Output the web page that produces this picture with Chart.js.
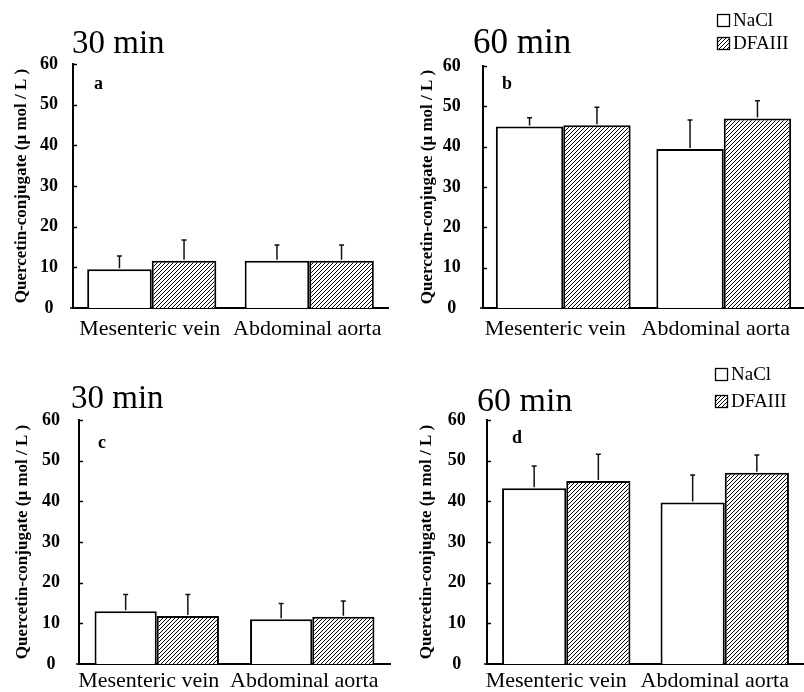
<!DOCTYPE html>
<html><head><meta charset="utf-8">
<script src="https://cdn.jsdelivr.net/npm/chart.js@4.4.0/dist/chart.umd.min.js"></script>
<style>
html,body{margin:0;padding:0;background:#fff;}
body{width:804px;height:692px;position:relative;overflow:hidden;}
.p{position:absolute;}
canvas{display:block;}
</style></head><body>
<div class="p" style="left:0;top:0"><canvas id="ca" width="400" height="345"></canvas></div>
<div class="p" style="left:400px;top:0"><canvas id="cb" width="404" height="345"></canvas></div>
<div class="p" style="left:0;top:345px"><canvas id="cc" width="400" height="347"></canvas></div>
<div class="p" style="left:400px;top:345px"><canvas id="cd" width="404" height="347"></canvas></div>
<script>
// ---- data ----
const categories = ['Mesenteric vein', 'Abdominal aorta'];
const seriesNames = ['NaCl', 'DFAIII'];
const yTicks = [0, 10, 20, 30, 40, 50, 60];
const yTitle = 'Quercetin-conjugate (\u03bc mol / L )';

const aNaCl = [9.5, 11.6],  aNaClSD = [3.3, 3.9];
const aDFA  = [11.6, 11.6], aDFASD  = [5.1, 3.9];
const bNaCl = [45.0, 39.4], bNaClSD = [2.2, 7.2];
const bDFA  = [45.3, 47.0], bDFASD  = [4.5, 4.4];
const cNaCl = [13.0, 11.0], cNaClSD = [4.1, 3.9];
const cDFA  = [11.8, 11.6], cDFASD  = [5.3, 3.9];
const dNaCl = [43.2, 39.7], dNaClSD = [5.5, 6.8];
const dDFA  = [45.0, 47.0], dDFASD  = [6.6, 4.4];

const SERIF = "'Liberation Serif', 'Times New Roman', serif";

function makeHatch(ctx) {
  const s = 4;
  const c = document.createElement('canvas'); c.width = s; c.height = s;
  const g = c.getContext('2d');
  g.fillStyle = '#fff'; g.fillRect(0, 0, s, s);
  g.strokeStyle = '#000'; g.lineWidth = 1.0;
  g.beginPath();
  g.moveTo(0, s); g.lineTo(s, 0);
  g.moveTo(-1, 1); g.lineTo(1, -1);
  g.moveTo(s - 1, s + 1); g.lineTo(s + 1, s - 1);
  g.stroke();
  return ctx.createPattern(c, 'repeat');
}

const errPlugin = {
  id: 'errbars',
  afterDatasetsDraw(chart) {
    const ctx = chart.ctx, y = chart.scales.y;
    chart.data.datasets.forEach((ds, i) => {
      const meta = chart.getDatasetMeta(i);
      meta.data.forEach((bar, j) => {
        const top = y.getPixelForValue(ds.data[j] + ds.sd[j]);
        ctx.save();
        ctx.strokeStyle = '#111'; ctx.lineWidth = 1.5;
        ctx.beginPath();
        ctx.moveTo(bar.x, bar.y - 1); ctx.lineTo(bar.x, top);
        ctx.moveTo(bar.x - 2.5, top); ctx.lineTo(bar.x + 2.5, top);
        ctx.stroke();
        ctx.restore();
      });
    });
  }
};

const innerTicks = {
  id: 'innerTicks',
  afterDraw(chart) {
    const ctx = chart.ctx, y = chart.scales.y, x0 = chart.chartArea.left;
    ctx.save(); ctx.strokeStyle = '#000'; ctx.lineWidth = 1.5;
    yTicks.forEach(v => {
      const py = Math.round(y.getPixelForValue(v)) + 0.5;
      ctx.beginPath();
      if (v === 0) { ctx.moveTo(x0 - 3, py - 0.5); ctx.lineTo(x0, py - 0.5); }
      else { ctx.moveTo(x0, py); ctx.lineTo(x0 + 4, py); }
      ctx.stroke();
    });
    ctx.restore();
  }
};

const annot = {
  id: 'annot',
  afterDraw(chart, args, o) {
    const ctx = chart.ctx;
    ctx.save();
    ctx.fillStyle = '#000';
    ctx.textBaseline = 'alphabetic'; ctx.textAlign = 'left';
    ctx.font = o.tsize + 'px ' + SERIF;
    ctx.fillText(o.title, o.tx, o.ty);
    ctx.font = 'bold 18px ' + SERIF;
    ctx.fillText(o.letter, o.lx, o.ly);
    if (o.legend) {
      const L = o.legend;
      const hatch = makeHatch(ctx);
      ctx.lineWidth = 1.3; ctx.strokeStyle = '#000';
      ctx.fillStyle = '#fff'; ctx.fillRect(L.x, L.y1, 12, 12); ctx.strokeRect(L.x + 0.5, L.y1 + 0.5, 12, 12);
      ctx.fillStyle = hatch; ctx.fillRect(L.x, L.y2, 12, 12); ctx.strokeRect(L.x + 0.5, L.y2 + 0.5, 12, 12);
      ctx.fillStyle = '#000';
      ctx.font = '19px ' + SERIF;
      ctx.fillText(seriesNames[0], L.x + 16, L.y1 + 12);
      ctx.fillText(seriesNames[1], L.x + 16, L.y2 + 12);
    }
    ctx.restore();
  }
};

function makeChart(id, nacl, naclSD, dfa, dfaSD, cfg) {
  const canvas = document.getElementById(id);
  const ctx = canvas.getContext('2d');
  const W = canvas.width, H = canvas.height;
  return new Chart(ctx, {
    type: 'bar',
    data: {
      labels: categories,
      datasets: [
        { label: seriesNames[0], data: nacl, sd: naclSD, backgroundColor: '#fff', borderColor: '#000', borderWidth: 2 },
        { label: seriesNames[1], data: dfa, sd: dfaSD, backgroundColor: makeHatch(ctx), borderColor: '#000', borderWidth: 2 }
      ]
    },
    options: {
      responsive: false, animation: false, devicePixelRatio: 1,
      categoryPercentage: cfg.cat, barPercentage: 1.0,
      layout: { padding: { left: 0, top: cfg.top, right: W - cfg.right, bottom: 0 } },
      plugins: {
        legend: { display: false }, tooltip: { enabled: false },
        annot: cfg.annot
      },
      scales: {
        x: {
          afterFit(s) { s.height = H - cfg.bottom; },
          ticks: { font: { family: SERIF, size: 22 }, color: '#000', padding: 0, labelOffset: cfg.lo, maxRotation: 0, autoSkip: false },
          grid: { display: false, drawTicks: true, tickLength: cfg.xpad },
          border: { display: true, color: '#000', width: 2 }
        },
        y: {
          min: 0, max: 60,
          afterFit(s) { s.width = cfg.left; },
          afterBuildTicks(s) { s.ticks = yTicks.map(v => ({ value: v })); },
          ticks: { font: { family: SERIF, size: 18, weight: 'bold' }, color: '#000', padding: 0, crossAlign: 'center' },
          grid: { display: false, drawTicks: true, tickLength: cfg.ypad },
          border: { display: true, color: '#000', width: 2 },
          title: { display: true, text: yTitle, color: '#000', font: { family: SERIF, size: 17, weight: 'bold' }, padding: { top: cfg.tpad, bottom: 0 } }
        }
      }
    },
    plugins: [errPlugin, innerTicks, annot]
  });
}

makeChart('ca', aNaCl, aNaClSD, aDFA, aDFASD, {
  left: 73, right: 388, top: 64, bottom: 308, cat: 0.82, xpad: 8, ypad: 15, tpad: 11.8, lo: -2,
  annot: { title: '30 min', tx: 72, ty: 53, tsize: 33, letter: 'a', lx: 94, ly: 89, legend: null }
});
makeChart('cb', bNaCl, bNaClSD, bDFA, bDFASD, {
  left: 83, right: 404, top: 66, bottom: 308, cat: 0.84, xpad: 8, ypad: 22.3, tpad: 17.3, lo: -8,
  annot: { title: '60 min', tx: 73, ty: 53, tsize: 35, letter: 'b', lx: 102, ly: 89, legend: { x: 317, y1: 14, y2: 37 } }
});
makeChart('cc', cNaCl, cNaClSD, cDFA, cDFASD, {
  left: 79, right: 390, top: 75, bottom: 319, cat: 0.80, xpad: 4, ypad: 19, tpad: 12.8, lo: -8,
  annot: { title: '30 min', tx: 71, ty: 63, tsize: 33, letter: 'c', lx: 98, ly: 103, legend: null }
});
makeChart('cd', dNaCl, dNaClSD, dDFA, dDFASD, {
  left: 87, right: 404, top: 75, bottom: 319, cat: 0.81, xpad: 4, ypad: 21.3, tpad: 16.8, lo: -10,
  annot: { title: '60 min', tx: 77, ty: 66, tsize: 34, letter: 'd', lx: 112, ly: 98, legend: { x: 315, y1: 23, y2: 50 } }
});
</script>
</body></html>
